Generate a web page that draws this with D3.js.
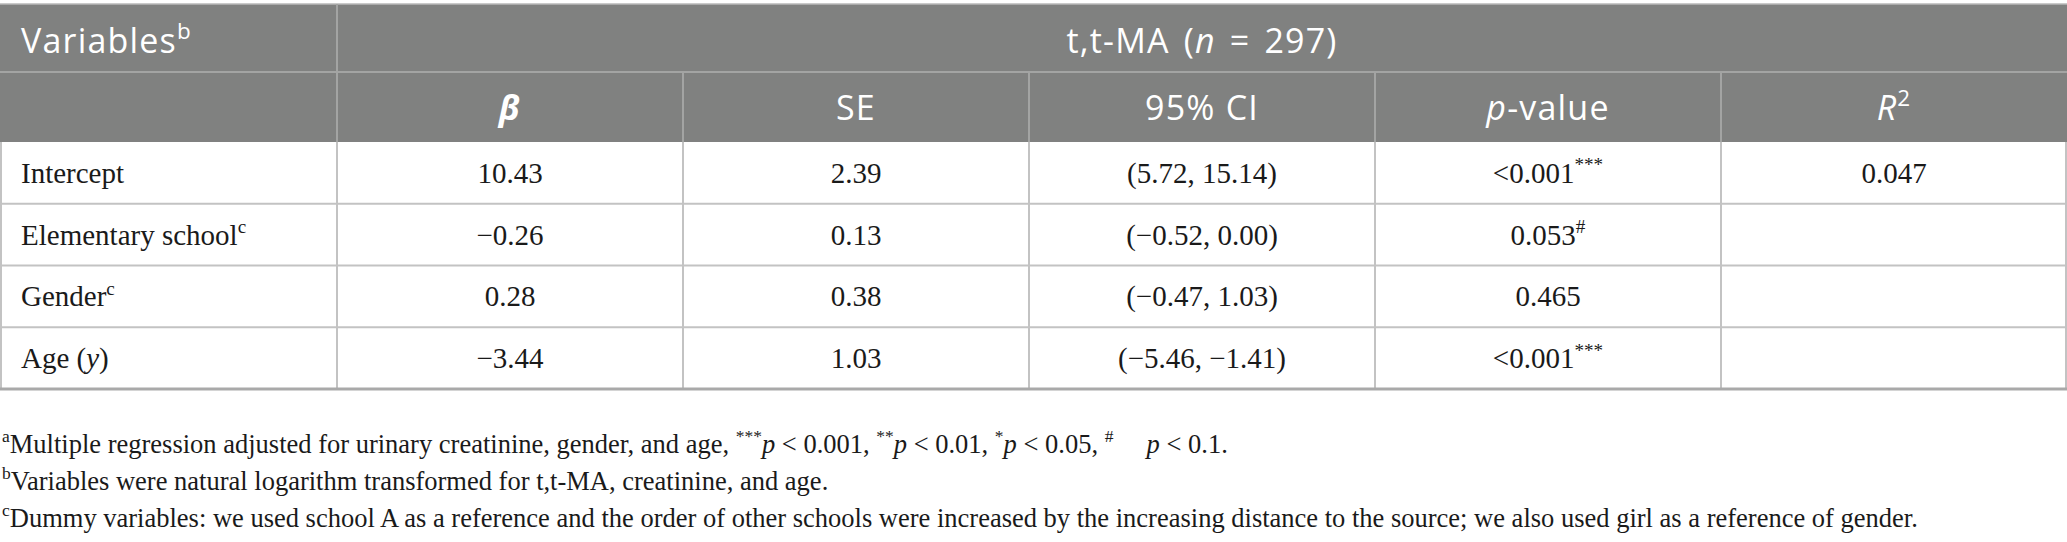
<!DOCTYPE html>
<html>
<head>
<meta charset="utf-8">
<script src="https://cdn.jsdelivr.net/npm/d3@7"></script>
<style>
  html, body { margin: 0; padding: 0; background: #fff; }
  text { white-space: pre; }
</style>
</head>
<body>
<div id="table"></div>
<script>

// table content ([i] italic, [bi] bold italic, [sup] superscript)
const groupTitle = "t,t-MA ([i]n[/i] = 297)";
const firstHeader = "Variables[sup]b[/sup]";
const columns = ["beta", "se", "ci", "p", "r2"];
const columnLabels = ["[bi]β[/bi]", "SE", "95% CI", "[i]p[/i]-value", "[i]R[/i][sup]2[/sup]"];

const variables = ["Intercept", "Elementary school[sup]c[/sup]", "Gender[sup]c[/sup]", "Age ([i]y[/i])"];
const betaValues = ["10.43", "−0.26", "0.28", "−3.44"];
const seValues = ["2.39", "0.13", "0.38", "1.03"];
const ciValues = ["(5.72, 15.14)", "(−0.52, 0.00)", "(−0.47, 1.03)", "(−5.46, −1.41)"];
const pValues = ["<0.001[sup]***[/sup]", "0.053[sup]#[/sup]", "0.465", "<0.001[sup]***[/sup]"];
const r2Values = ["0.047", "", "", ""];

const footnotes = [
  "[sup]a[/sup]Multiple regression adjusted for urinary creatinine, gender, and age, [sup]***[/sup][i]p[/i] < 0.001, [sup]**[/sup][i]p[/i] < 0.01, [sup]*[/sup][i]p[/i] < 0.05, [sup]#[/sup]     [i]p[/i] < 0.1.",
  "[sup]b[/sup]Variables were natural logarithm transformed for t,t-MA, creatinine, and age.",
  "[sup]c[/sup]Dummy variables: we used school A as a reference and the order of other schools were increased by the increasing distance to the source; we also used girl as a reference of gender."
];

// layout
const width = 2067, height = 542;
const firstColW = 337;
const topY = 4, head1Y = 72, head2Y = 142, bottomY = 389;

const headFont = "'Open Sans', 'Noto Sans', sans-serif";
const bodyFont = "'Liberation Serif', 'Times New Roman', serif";

const svg = d3.select("#table")
  .append("svg")
  .attr("width", width)
  .attr("height", height);

svg.append("rect").attr("width", width).attr("height", height).attr("fill", "#fff");

const x = d3.scaleBand().domain(columns).range([firstColW, width]);
const y = d3.scaleBand().domain(d3.range(variables.length)).range([head2Y, bottomY]);

const rows = variables.map((v, i) => ({
  label: v,
  beta: betaValues[i],
  se: seValues[i],
  ci: ciValues[i],
  p: pValues[i],
  r2: r2Values[i]
}));

// writes the small markup into tspans
function rich(sel, markup) {
  const re = /\[(i|bi|sup)\](.*?)\[\/\1\]|([^\[]+)/g;
  const fs = +sel.attr("data-fs");
  let m, shift = 0;
  while ((m = re.exec(markup)) !== null) {
    const tag = m[1] || null;
    const txt = m[1] ? m[2] : m[3];
    const ts = sel.append("tspan").text(txt);
    if (tag === "i") ts.attr("font-style", "italic");
    if (tag === "bi") ts.attr("font-style", "italic").attr("font-weight", "bold");
    if (tag === "sup") {
      ts.attr("font-size", "0.66em").attr("dy", -0.4 * fs - shift);
      shift = -0.4 * fs;
    } else if (shift !== 0) {
      ts.attr("dy", -shift);
      shift = 0;
    }
  }
  return sel;
}

// header background
svg.append("rect")
  .attr("x", 0).attr("y", topY)
  .attr("width", width).attr("height", head2Y - topY)
  .attr("fill", "#808180");

svg.append("line")
  .attr("x1", 0).attr("x2", width).attr("y1", topY).attr("y2", topY)
  .attr("stroke", "#b9b9b9").attr("stroke-width", 1.5);

svg.append("line")
  .attr("x1", 0).attr("x2", width).attr("y1", head1Y).attr("y2", head1Y)
  .attr("stroke", "#a3a4a3").attr("stroke-width", 2);

// header vertical lines
svg.append("line")
  .attr("x1", firstColW).attr("x2", firstColW).attr("y1", topY).attr("y2", head2Y)
  .attr("stroke", "#a3a4a3").attr("stroke-width", 2);

svg.selectAll(".hdiv")
  .data(columns.slice(1))
  .enter()
  .append("line")
  .attr("x1", d => x(d)).attr("x2", d => x(d))
  .attr("y1", head1Y).attr("y2", head2Y)
  .attr("stroke", "#a3a4a3").attr("stroke-width", 2);

// body grid
svg.selectAll(".hrow")
  .data(d3.range(1, variables.length))
  .enter()
  .append("line")
  .attr("x1", 0).attr("x2", width)
  .attr("y1", d => y(d)).attr("y2", d => y(d))
  .attr("stroke", "#c3c3c3").attr("stroke-width", 2);

svg.selectAll(".vcol")
  .data([1, firstColW].concat(columns.slice(1).map(c => x(c))).concat([width - 1]))
  .enter()
  .append("line")
  .attr("x1", d => d).attr("x2", d => d)
  .attr("y1", head2Y).attr("y2", bottomY)
  .attr("stroke", "#c3c3c3").attr("stroke-width", 2);

svg.append("line")
  .attr("x1", 0).attr("x2", width).attr("y1", bottomY).attr("y2", bottomY)
  .attr("stroke", "#a9a9a9").attr("stroke-width", 3);

// header texts
const headSize = 34;

rich(svg.append("text")
  .attr("data-fs", headSize)
  .attr("x", 21).attr("y", 53)
  .attr("font-family", headFont).attr("font-size", headSize)
  .attr("letter-spacing", 1.2)
  .attr("fill", "#fff"), firstHeader);

rich(svg.append("text")
  .attr("data-fs", headSize)
  .attr("x", (firstColW + width) / 2).attr("y", 53)
  .attr("text-anchor", "middle")
  .attr("font-family", headFont).attr("font-size", headSize)
  .attr("letter-spacing", 1.2)
  .attr("word-spacing", 4)
  .attr("fill", "#fff"), groupTitle);

columns.forEach((c, i) => {
  rich(svg.append("text")
    .attr("data-fs", headSize)
    .attr("x", x(c) + x.bandwidth() / 2).attr("y", 120)
    .attr("text-anchor", "middle")
    .attr("font-family", headFont).attr("font-size", headSize)
    .attr("letter-spacing", 1.2)
    .attr("fill", "#fff"), columnLabels[i]);
});

// body texts
const bodySize = 29;

rows.forEach((r, i) => {
  const base = y(i) + y.bandwidth() / 2 + 10;
  rich(svg.append("text")
    .attr("data-fs", bodySize)
    .attr("x", 21).attr("y", base)
    .attr("font-family", bodyFont).attr("font-size", bodySize)
    .attr("fill", "#1a1a1a"), r.label);

  columns.forEach(c => {
    if (!r[c]) return;
    rich(svg.append("text")
      .attr("data-fs", bodySize)
      .attr("x", x(c) + x.bandwidth() / 2).attr("y", base)
      .attr("text-anchor", "middle")
      .attr("font-family", bodyFont).attr("font-size", bodySize)
      .attr("fill", "#1a1a1a"), r[c]);
  });
});

// footnotes
const noteSize = 26.5;
const noteY = d3.scalePoint().domain(d3.range(footnotes.length)).range([453, 527]);

footnotes.forEach((f, i) => {
  rich(svg.append("text")
    .attr("data-fs", noteSize)
    .attr("x", 2).attr("y", noteY(i))
    .attr("font-family", bodyFont).attr("font-size", noteSize)
    .attr("fill", "#1a1a1a"), f);
});

</script>
</body>
</html>
